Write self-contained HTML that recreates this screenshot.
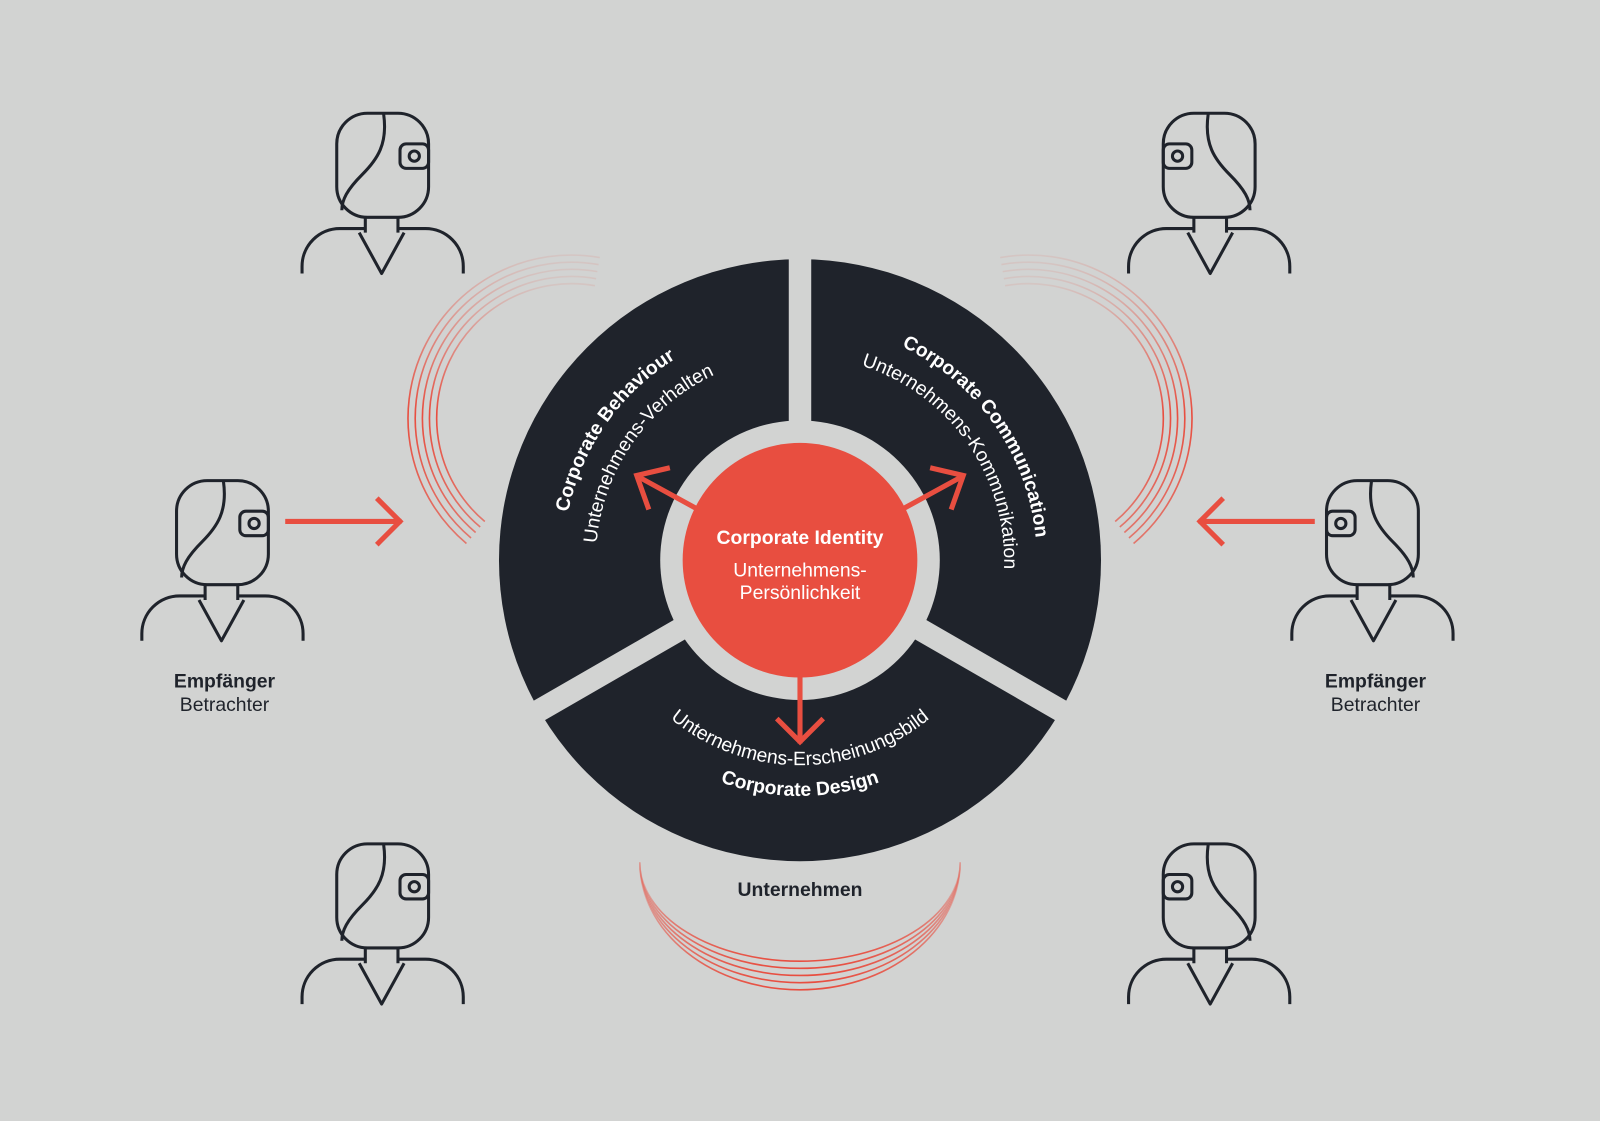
<!DOCTYPE html>
<html><head><meta charset="utf-8"><style>html,body{margin:0;padding:0;background:#d2d3d2}svg{display:block}</style></head>
<body>
<svg width="1600" height="1121" viewBox="0 0 1568 1098.6" xmlns="http://www.w3.org/2000/svg" font-family="'Liberation Sans', sans-serif">
<defs>
<g id="p" fill="none" stroke="#1f232b" stroke-width="3" stroke-linejoin="round">
<rect x="0" y="0" width="90" height="102" rx="30"/>
<rect x="62" y="30" width="28" height="24" rx="6"/>
<circle cx="76" cy="42" r="5"/>
<path d="M46 1 C50 30 40 45 25 60 C10 75 5 85 5 95"/>
<path d="M28 102 V117 M60 102 V117"/>
<path d="M-34 157 V150 A37 37 0 0 1 3 113 H28"/>
<path d="M60 113 H87 A37 37 0 0 1 124 150 V157"/>
<path d="M22 117 L44 157 L66 117"/>
</g>
<linearGradient id="gl" x1="0" y1="0" x2="0" y2="1"><stop offset="0" stop-color="#e84e40" stop-opacity="0.1"/><stop offset="0.55" stop-color="#e84e40" stop-opacity="1"/><stop offset="1" stop-color="#e84e40" stop-opacity="0.7"/></linearGradient>
<linearGradient id="gb" x1="0" y1="0" x2="0" y2="1"><stop offset="0" stop-color="#e84e40" stop-opacity="0.1"/><stop offset="1" stop-color="#e84e40" stop-opacity="1"/></linearGradient>
<path id="lb" d="M 555.5 589.3 A 232 232 0 0 1 743.7 320.5"/>
<path id="ls" d="M 587 583.7 A 200 200 0 0 1 749.3 352"/>
<path id="rb" d="M 824.3 320.5 A 232 232 0 0 1 1012.5 589.3"/>
<path id="rs" d="M 818.7 352 A 200 200 0 0 1 981 583.7"/>
<path id="bs" d="M 596.4 617.3 A 199 199 0 0 0 971.6 617.3"/>
<path id="bb" d="M 566.9 628 A 231 231 0 0 0 1001.1 628"/>
<g id="arcs" fill="none" stroke="url(#gl)" stroke-width="1.6">
<path d="M 587.8 252.4 A 160 160 0 0 0 457.1 532.6"/>
<path d="M 586.6 259.3 A 153 153 0 0 0 461.6 527.2"/>
<path d="M 585.4 266.2 A 146 146 0 0 0 466.1 521.8"/>
<path d="M 584.2 273.1 A 139 139 0 0 0 470.6 516.5"/>
<path d="M 583 280 A 132 132 0 0 0 475.1 511.1"/>
</g>
</defs>
<rect width="1568" height="1099" fill="#d2d3d2"/>

<use href="#p" x="330" y="111"/>
<use href="#p" x="173" y="471"/>
<use href="#p" x="330" y="827"/>
<use href="#p" transform="translate(1230,111) scale(-1,1)"/>
<use href="#p" transform="translate(1390,471) scale(-1,1)"/>
<use href="#p" transform="translate(1230,827) scale(-1,1)"/>

<use href="#arcs"/>
<use href="#arcs" transform="translate(1568,0) scale(-1,1)"/>
<g fill="none" stroke="url(#gb)" stroke-width="1.6">
<path d="M 627 845 A 157 125 0 0 0 941 845"/>
<path d="M 627 845 A 157 118 0 0 0 941 845"/>
<path d="M 627 845 A 157 111 0 0 0 941 845"/>
<path d="M 627 845 A 157 104 0 0 0 941 845"/>
<path d="M 627 845 A 157 97 0 0 0 941 845"/>
</g>

<circle cx="784" cy="549" r="295" fill="#1f232b"/>
<circle cx="784" cy="549" r="137" fill="#d2d3d2"/>
<g stroke="#d2d3d2" stroke-width="22">
<line x1="784" y1="549" x2="784" y2="240"/>
<line x1="784" y1="549" x2="515" y2="704"/>
<line x1="784" y1="549" x2="1053" y2="704"/>
</g>
<circle cx="784" cy="549" r="115" fill="#e84e40"/>

<g stroke="#e84e40" stroke-width="5" fill="none" stroke-linecap="square">
<line x1="680" y1="497" x2="627" y2="468"/>
<path d="M 654 459 L 624 466 L 635 497"/>
<line x1="888" y1="497" x2="941" y2="468"/>
<path d="M 914 459 L 944 466 L 933 497"/>
<line x1="784" y1="660" x2="784" y2="726"/>
<path d="M 763 706 L 784 727 L 805 706"/>
<line x1="282" y1="511" x2="391" y2="511"/>
<path d="M 371 490 L 392 511 L 371 532"/>
<line x1="1286" y1="511" x2="1177" y2="511"/>
<path d="M 1197 490 L 1176 511 L 1197 532"/>
</g>

<g fill="#fff" font-size="19">
<text text-anchor="middle"><textPath href="#lb" startOffset="50%" font-weight="bold">Corporate Behaviour</textPath></text>
<text text-anchor="middle"><textPath href="#ls" startOffset="50%">Unternehmens-Verhalten</textPath></text>
<text text-anchor="middle"><textPath href="#rb" startOffset="50%" font-weight="bold">Corporate Communication</textPath></text>
<text text-anchor="middle"><textPath href="#rs" startOffset="50%">Unternehmens-Kommunikation</textPath></text>
<text text-anchor="middle"><textPath href="#bs" startOffset="50%">Unternehmens-Erscheinungsbild</textPath></text>
<text text-anchor="middle"><textPath href="#bb" startOffset="50%" font-weight="bold">Corporate Design</textPath></text>
<text x="784" y="533" text-anchor="middle" font-weight="bold">Corporate Identity</text>
<text x="784" y="565" text-anchor="middle">Unternehmens-</text>
<text x="784" y="587" text-anchor="middle">Persönlichkeit</text>
</g>
<g fill="#1f232b" font-size="19" text-anchor="middle">
<text x="220" y="674" font-weight="bold">Empfänger</text>
<text x="220" y="697">Betrachter</text>
<text x="1348" y="674" font-weight="bold">Empfänger</text>
<text x="1348" y="697">Betrachter</text>
<text x="784" y="878" font-weight="bold">Unternehmen</text>
</g>
</svg>
</body></html>
